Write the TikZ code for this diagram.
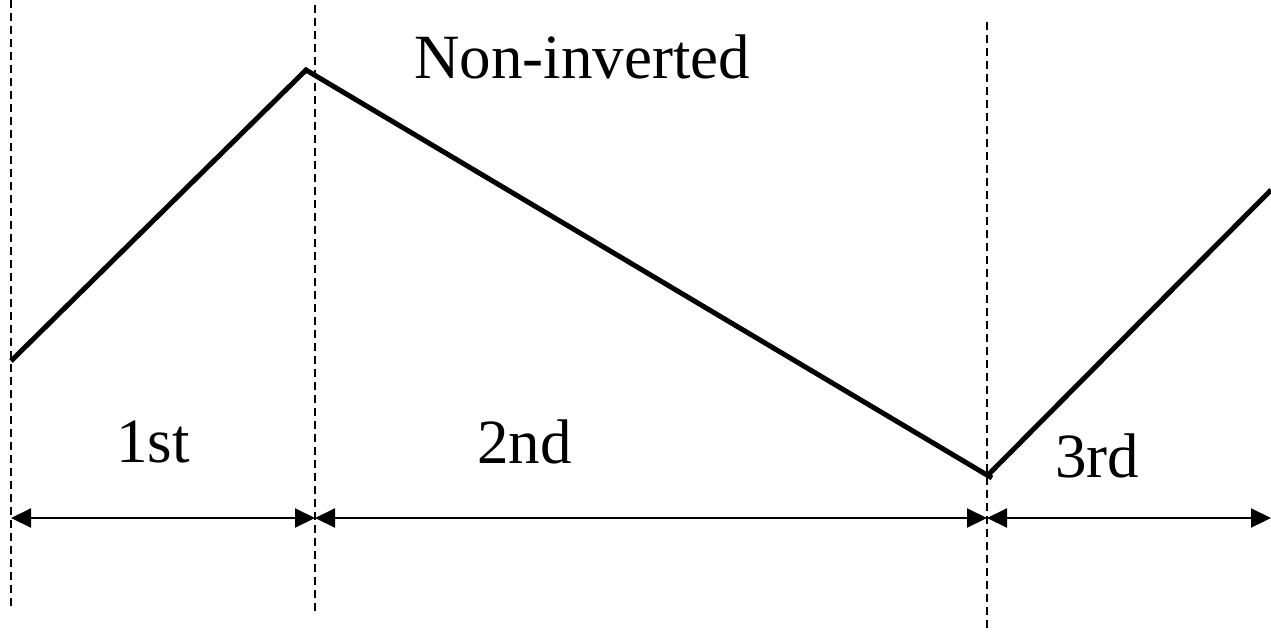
\documentclass[tikz,border=0pt]{standalone}
\usepackage{fontspec}
\setmainfont{Liberation Serif}
\usetikzlibrary{arrows.meta}
\begin{document}
\begin{tikzpicture}[x=1pt,y=-1pt,
  guide/.style={line width=1.3pt,dash pattern=on 8pt off 5pt},
  wave/.style={line width=5pt,line join=miter},
  dim/.style={line width=2pt,>={Triangle[length=20pt,width=19pt]},<->},
  lbl/.style={font=\fontsize{63}{63}\selectfont,anchor=base west,inner sep=0pt}]
\useasboundingbox (0,0) rectangle (1271,632);
% guide lines
\coordinate (g1t) at (11,0);   \coordinate (g1b) at (11,607);
\coordinate (g2t) at (315,5);  \coordinate (g2b) at (315,612);
\coordinate (g3t) at (987,22); \coordinate (g3b) at (987,632);
\draw[guide] (g1t) -- (g1b);
\draw[guide] (g2t) -- (g2b);
\draw[guide] (g3t) -- (g3b);
% wave
\coordinate (w0) at (11,361);
\coordinate (w1) at (306,70);
\coordinate (w2) at (992,478);
\coordinate (w3) at (988,475);
\coordinate (w4) at (1271,190);
\draw[wave] (w0) -- (w1) -- (w2);
\draw[wave] (w3) -- (w4);
% dimension arrows
\coordinate (d0) at (11,518);
\coordinate (d1) at (315,518);
\coordinate (d2) at (987,518);
\coordinate (d3) at (1271,518);
\draw[dim] (d0) -- (d1);
\draw[dim] (d1) -- (d2);
\draw[dim] (d2) -- (d3);
% labels
\node[lbl] (t1) at (116,462) {1st};
\node[lbl] (t2) at (477,463) {2nd};
\node[lbl] (t3) at (1055,477) {3rd};
\node[lbl] (t4) at (414,78) {Non-inverted};
\end{tikzpicture}
\end{document}
